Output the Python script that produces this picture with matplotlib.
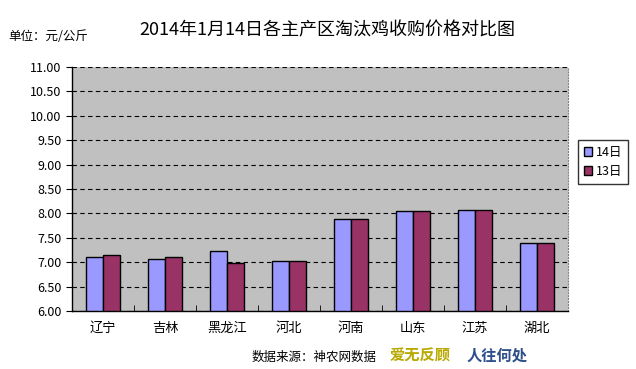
import matplotlib.pyplot as plt
import numpy as np

plt.rcParams['font.family'] = ['Noto Sans CJK SC', 'DejaVu Sans']

regions = ["辽宁", "吉林", "黑龙江", "河北", "河南", "山东", "江苏", "湖北"]
price_14 = [7.10, 7.06, 7.22, 7.02, 7.88, 8.04, 8.06, 7.39]
price_13 = [7.14, 7.10, 6.98, 7.02, 7.88, 8.04, 8.06, 7.39]
yticks = np.arange(6.0, 11.01, 0.5)

fig = plt.figure(figsize=(6.36, 3.69), dpi=100)
ax = fig.add_axes([72 / 636, 1 - 311 / 369, (568 - 72) / 636, (311 - 67) / 369])
ax.set_facecolor("#C0C0C0")

x = np.arange(len(regions))
w = 0.27
ax.bar(x - w / 2, np.array(price_14) - 6, w, bottom=6, color="#9999FF",
       edgecolor="black", linewidth=1, label="14日", zorder=3)
ax.bar(x + w / 2, np.array(price_13) - 6, w, bottom=6, color="#993366",
       edgecolor="black", linewidth=1, label="13日", zorder=3)

ax.set_ylim(6, 11)
ax.set_xlim(-0.5, len(regions) - 0.5)
ax.set_yticks(yticks)
ax.set_yticklabels([f"{v:.2f}" for v in yticks], fontsize=9)
ax.set_xticks(x)
ax.set_xticklabels(regions, fontsize=9.5)
ax.set_xticks(np.arange(0.5, len(regions) - 0.5), minor=True)
ax.tick_params(axis="x", which="major", length=0, pad=8)
ax.tick_params(axis="x", which="minor", length=4, direction="in")
ax.tick_params(axis="y", length=4, direction="out")
ax.yaxis.grid(True, linestyle=(0, (4, 3)), color="black", linewidth=0.8, zorder=1)

ax.spines["top"].set_visible(False)
ax.spines["right"].set_linestyle(":")
ax.spines["right"].set_color("#808080")
ax.spines["left"].set_linewidth(1)
ax.spines["bottom"].set_linewidth(1)

leg = ax.legend(loc="upper left", bbox_to_anchor=(1.02, 0.70), fontsize=9,
                frameon=True, fancybox=False, edgecolor="black",
                handlelength=0.7, handleheight=0.7, handletextpad=0.3,
                borderpad=0.45, labelspacing=0.5, borderaxespad=0)
leg.get_frame().set_linewidth(1)

fig.text(327 / 636, 1 - 30 / 369, "2014年1月14日各主产区淘汰鸡收购价格对比图",
         ha="center", va="center", fontsize=13)
fig.text(8 / 636, 1 - 37 / 369, "单位：元/公斤", ha="left", va="center", fontsize=9)
fig.text(252 / 636, 1 - 357 / 369, "数据来源：神农网数据", ha="left", va="center",
         fontsize=9)
fig.text(390 / 636, 1 - 356 / 369, "爱无反顾", ha="left", va="center",
         fontsize=11, fontweight="bold", color="#B8A800")
fig.text(467 / 636, 1 - 356 / 369, "人往何处", ha="left", va="center",
         fontsize=11, fontweight="bold", color="#2E4F8A")

fig.savefig("out.png", dpi=100)
